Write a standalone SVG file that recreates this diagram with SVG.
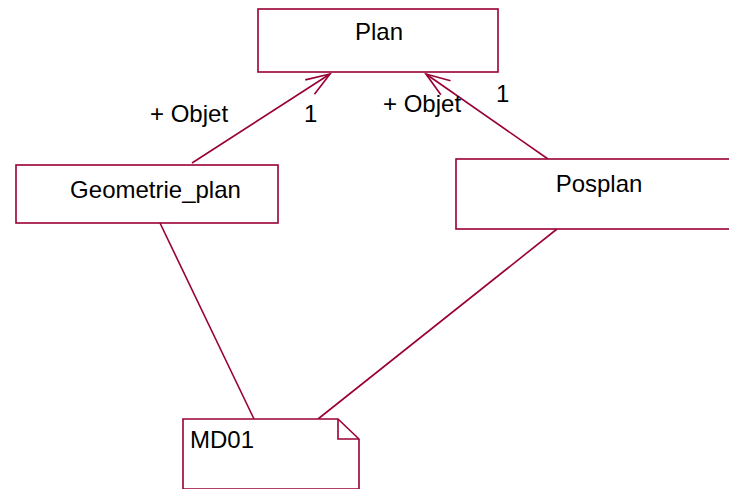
<svg xmlns="http://www.w3.org/2000/svg" width="729" height="489" viewBox="0 0 729 489">
  <style>
    .box { fill: #ffffff; stroke: #990033; stroke-width: 1.6; }
    .edge { fill: none; stroke: #990033; stroke-width: 1.6; }
    .lbl { font-family: "Liberation Sans", Arial, sans-serif; font-size: 24px; fill: #000000; }
    .mid { text-anchor: middle; }
  </style>
  <defs>
    <!-- open arrowhead for navigable association ends -->
    <marker id="open" markerUnits="userSpaceOnUse" markerWidth="30" markerHeight="24" refX="0" refY="0" viewBox="-26 -12 30 24" orient="auto" overflow="visible">
      <path d="M -24 -8.5 L 0 0 L -24 8.5" fill="none" stroke="#990033" stroke-width="1.6"/>
    </marker>
  </defs>
  <rect width="729" height="489" fill="#ffffff"/>

  <g id="connectors">
    <line class="edge" x1="192" y1="163" x2="330" y2="74" marker-end="url(#open)"/>
    <line class="edge" x1="548" y1="159" x2="426" y2="74" marker-end="url(#open)"/>
    <line class="edge" x1="160" y1="223" x2="254" y2="419"/>
    <line class="edge" x1="557" y1="229" x2="318" y2="419"/>
    <text class="lbl" x="150" y="122">+ Objet</text>
    <text class="lbl" x="304" y="122">1</text>
    <text class="lbl" x="383" y="112">+ Objet</text>
    <text class="lbl" x="496" y="102">1</text>
  </g>

  <g id="plan">
    <rect class="box" x="258" y="9" width="240" height="63"/>
    <text class="lbl mid" x="379" y="40">Plan</text>
  </g>

  <g id="geometrie_plan">
    <rect class="box" x="16" y="165" width="262" height="58"/>
    <text class="lbl mid" x="155.5" y="198">Geometrie_plan</text>
  </g>

  <g id="posplan">
    <!-- box runs past the right edge of the sheet -->
    <rect class="box" x="456" y="159" width="290" height="70"/>
    <text class="lbl mid" x="599" y="192">Posplan</text>
  </g>

  <g id="md01">
    <path class="box" d="M 183 419 L 338 419 L 359 439 L 359 489 L 183 489 Z"/>
    <path class="edge" d="M 338 419 L 338 439 L 359 439"/>
    <text class="lbl" x="190" y="448">MD01</text>
  </g>
</svg>
